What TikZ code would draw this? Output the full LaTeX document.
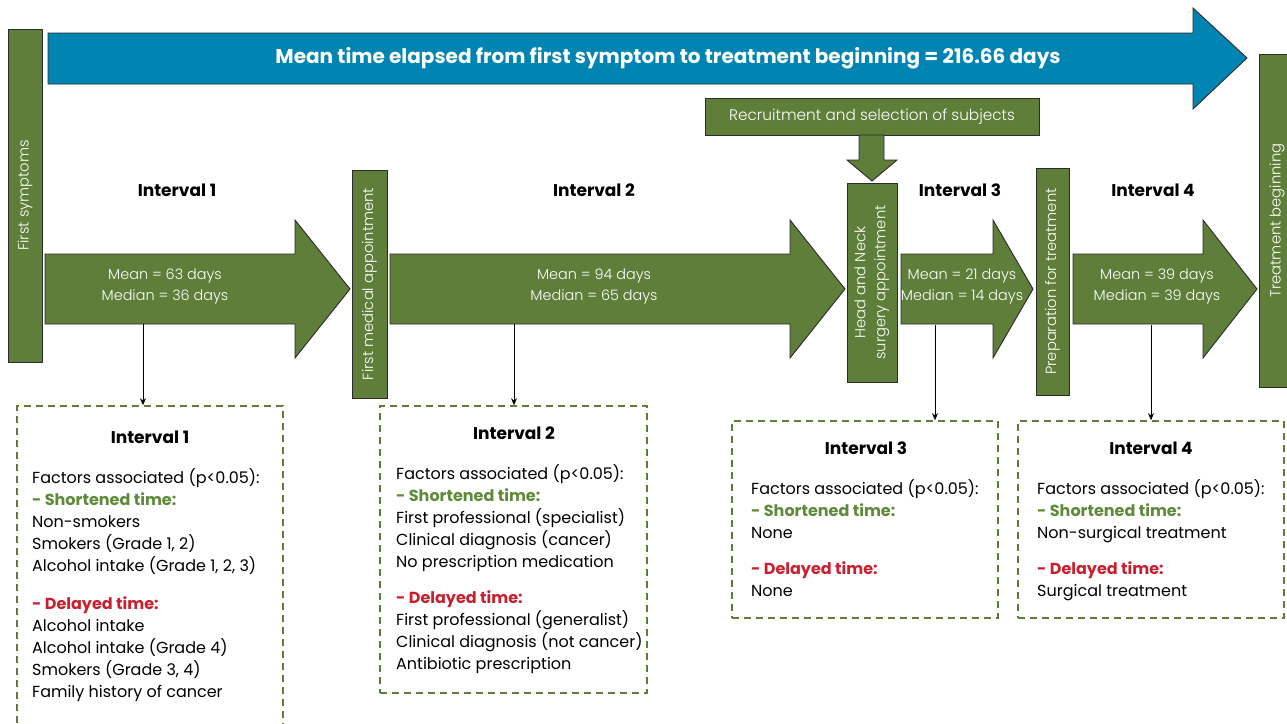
\documentclass[tikz,border=0pt]{standalone}
\usepackage{fontspec}
\setmainfont{Poppins}
\newfontfamily\thinfont{Poppins Light}
\usetikzlibrary{arrows.meta,positioning,fit}
\definecolor{olive}{HTML}{5E7E3A}
\definecolor{darkline}{HTML}{2B2B2B}
\definecolor{seablue}{HTML}{0085B2}
\definecolor{shortgreen}{HTML}{5E8A3A}
\definecolor{delayred}{HTML}{C8202F}
\tikzset{
  bar/.style={draw=darkline, fill=olive, line width=.9pt, rotate=90, text=white, align=center, inner sep=0pt, font=\thinfont\fontsize{14.7}{20}\selectfont},
  bigarrow/.style={draw=darkline, fill=olive, line width=.9pt},
  shafttxt/.style={text=white, align=center, inner sep=0pt, font=\thinfont\fontsize{14.4}{21}\selectfont},
  hdr/.style={font=\bfseries\fontsize{17}{19}\selectfont},
  factbox/.style={draw=olive, line width=1.6pt, dash pattern=on 7pt off 5pt, inner sep=0pt},
  facts/.style={align=left, anchor=north west, inner sep=0pt, font=\fontsize{16}{22}\selectfont},
  dn/.style={-{Stealth[length=7pt,width=6pt]}, line width=.8pt},
}
\newcommand{\shorter}{{\color{shortgreen}\bfseries - Shortened time:}}
\newcommand{\delayer}{{\color{delayred}\bfseries - Delayed time:}}
\begin{document}
\begin{tikzpicture}[x=1pt,y=-1pt]
  \useasboundingbox (0,0) rectangle (1287,723);
  % overall time
  \draw[draw=darkline, fill=seablue, line width=.9pt] (48,33) -- (1193,33) -- (1193,8) -- (1247,58) -- (1193,109) -- (1193,84) -- (48,84) -- cycle;
  \node[text=white, font=\bfseries\fontsize{20}{22}\selectfont] (total) at (668,58) {Mean time elapsed from first symptom to treatment beginning = 216.66 days};
  % milestones
  \node[bar, minimum width=333pt, minimum height=34pt] (fs) at (25,195.5) {First symptoms};
  \node[bar, minimum width=228pt, minimum height=35pt] (fma) at (369.5,284) {First medical appointment};
  \node[bar, minimum width=199pt, minimum height=50pt] (hn) at (872,282.5) {Head and Neck\\surgery appointment};
  \node[bar, minimum width=227pt, minimum height=33pt] (prep) at (1052.5,281.5) {Preparation for treatment};
  \node[bar, minimum width=333pt, minimum height=36pt] (tb) at (1277,220.5) {Treatment beginning};
  \node[draw=darkline, fill=olive, line width=.9pt, text=white, inner sep=0pt, minimum width=334pt, minimum height=37pt, font=\thinfont\fontsize{15.3}{18}\selectfont] (rec) at (872,116.5) {Recruitment and selection of subjects};
  \draw[bigarrow] (859,135) -- (859,160) -- (847,160) -- (872,181) -- (897,160) -- (884,160) -- (884,135) -- cycle;
  % interval arrows
  \foreach \xa/\xb/\xc in {45/295/350, 390/790/845, 901/993/1033, 1073/1203/1257}{
    \draw[bigarrow] (\xa,254) -- (\xb,254) -- (\xb,220) -- (\xc,289) -- (\xb,358) -- (\xb,324) -- (\xa,324) -- cycle;
  }
  \node[shafttxt] (m1) at (165,287) {Mean = 63 days\\Median = 36 days};
  \node[shafttxt] (m2) at (594,287) {Mean = 94 days\\Median = 65 days};
  \node[shafttxt] (m3) at (962,287) {Mean = 21 days\\Median = 14 days};
  \node[shafttxt] (m4) at (1157,287) {Mean = 39 days\\Median = 39 days};
  \node[hdr] (h1) at (177,190) {Interval 1};
  \node[hdr] (h2) at (594,190) {Interval 2};
  \node[hdr] (h3) at (960,190) {Interval 3};
  \node[hdr] (h4) at (1153,190) {Interval 4};
  % factor boxes
  \node[factbox, fit={(17,406) (283,740)}] (box1) {};
  \node[factbox, fit={(380,406) (647,693)}] (box2) {};
  \node[factbox, fit={(732,421) (998,618)}] (box3) {};
  \node[factbox, fit={(1018,421) (1284,618)}] (box4) {};
  \coordinate (d1) at (143,324);
  \coordinate (d2) at (514,324);
  \coordinate (d3) at (935,325);
  \coordinate (d4) at (1151,325);
  \draw[dn] (d1) -- (d1 |- box1.north);
  \draw[dn] (d2) -- (d2 |- box2.north);
  \draw[dn] (d3) -- (d3 |- box3.north);
  \draw[dn] (d4) -- (d4 |- box4.north);
  \node[hdr] (t1) at (150,437) {Interval 1};
  \node[hdr] (t2) at (514,433) {Interval 2};
  \node[hdr] (t3) at (866,448) {Interval 3};
  \node[hdr] (t4) at (1151,448) {Interval 4};
  \node[facts] (f1) at (32,468) {Factors associated (p<0.05):\\ \shorter\\ Non-smokers\\ Smokers (Grade 1, 2)\\ Alcohol intake (Grade 1, 2, 3)\\[16pt] \delayer\\ Alcohol intake\\ Alcohol intake (Grade 4)\\ Smokers (Grade 3, 4)\\ Family history of cancer};
  \node[facts] (f2) at (396,464) {Factors associated (p<0.05):\\ \shorter\\ First professional (specialist)\\ Clinical diagnosis (cancer)\\ No prescription medication\\[14pt] \delayer\\ First professional (generalist)\\ Clinical diagnosis (not cancer)\\ Antibiotic prescription};
  \node[facts] (f3) at (751,479) {Factors associated (p<0.05):\\ \shorter\\ None\\[14pt] \delayer\\ None};
  \node[facts] (f4) at (1037,479) {Factors associated (p<0.05):\\ \shorter\\ Non-surgical treatment\\[14pt] \delayer\\ Surgical treatment};
\end{tikzpicture}
\end{document}
